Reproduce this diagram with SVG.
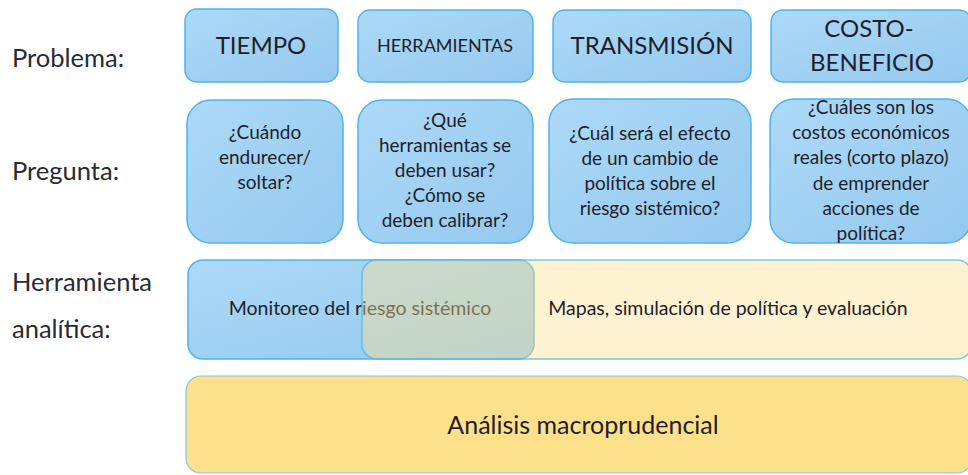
<svg xmlns="http://www.w3.org/2000/svg" width="968" height="475" viewBox="0 0 968 475">
<defs>
<linearGradient id="gb" x1="0" y1="0" x2="1" y2="1">
<stop offset="0" stop-color="#ADD9F8"/>
<stop offset="1" stop-color="#94C9EE"/>
</linearGradient>
<style>
.b{fill:url(#gb);stroke:#4FB4E6;stroke-width:1.5}
.t{font-family:Lato,"Liberation Sans",sans-serif;fill:#1E1E2A;text-anchor:middle}
.lab{font-family:Lato,"Liberation Sans",sans-serif;fill:#2A2A33;font-size:25.5px}
.q{font-size:19px}
</style>
</defs>
<rect width="968" height="475" fill="#FFFFFF"/>
<g id="labels">
<text class="lab" x="12" y="67">Problema:</text>
<text class="lab" x="12" y="180">Pregunta:</text>
<text class="lab" x="12" y="291">Herramienta</text>
<text class="lab" x="12" y="338">analítica:</text>
</g>
<g id="p-tiempo">
<rect class="b" x="185" y="9" width="153" height="73" rx="12"/>
<text class="t" x="261" y="54" font-size="24">TIEMPO</text>
</g>
<g id="p-herramientas">
<rect class="b" x="358" y="10" width="175" height="72" rx="12"/>
<text class="t" x="445" y="52" font-size="18">HERRAMIENTAS</text>
</g>
<g id="p-transmision">
<rect class="b" x="553" y="10" width="198" height="72" rx="12"/>
<text class="t" x="652" y="54" font-size="24">TRANSMISIÓN</text>
</g>
<g id="p-costo">
<rect class="b" x="771" y="10" width="200" height="72" rx="12"/>
<text class="t" x="869" y="37" font-size="24">COSTO-</text>
<text class="t" x="872" y="71" font-size="24">BENEFICIO</text>
</g>
<g id="q-tiempo">
<rect class="b" x="187" y="100" width="156" height="143" rx="24"/>
<text class="t q" x="265" y="139">¿Cuándo</text>
<text class="t q" x="265" y="164">endurecer/</text>
<text class="t q" x="265" y="189">soltar?</text>
</g>
<g id="q-herramientas">
<rect class="b" x="358" y="100" width="175" height="143" rx="24"/>
<text class="t q" x="445" y="127">¿Qué</text>
<text class="t q" x="445" y="152">herramientas se</text>
<text class="t q" x="445" y="177">deben usar?</text>
<text class="t q" x="445" y="202">¿Cómo se</text>
<text class="t q" x="445" y="227">deben calibrar?</text>
</g>
<g id="q-transmision">
<rect class="b" x="549" y="99" width="202" height="144" rx="24"/>
<text class="t q" x="650" y="140">¿Cuál será el efecto</text>
<text class="t q" x="650" y="165">de un cambio de</text>
<text class="t q" x="650" y="190">política sobre el</text>
<text class="t q" x="650" y="215">riesgo sistémico?</text>
</g>
<g id="q-costo">
<rect class="b" x="770" y="99" width="201" height="144" rx="24"/>
<text class="t q" x="871" y="114">¿Cuáles son los</text>
<text class="t q" x="871" y="139">costos económicos</text>
<text class="t q" x="871" y="164">reales (corto plazo)</text>
<text class="t q" x="871" y="190">de emprender</text>
<text class="t q" x="871" y="215">acciones de</text>
<text class="t q" x="871" y="240">política?</text>
</g>
<g id="h-monitoreo">
<rect class="b" x="188" y="260" width="346" height="99" rx="15"/>
<text class="t" x="360" y="315" font-size="19.5">Monitoreo del riesgo sistémico</text>
</g>
<g id="h-mapas">
<rect x="362" y="260" width="610" height="99" rx="15" fill="#FFE18F" fill-opacity="0.42" stroke="#4FB4E6" stroke-opacity="0.75" stroke-width="1.5"/>
<text class="t" x="728" y="315" font-size="19.5">Mapas, simulación de política y evaluación</text>
</g>
<g id="analisis">
<rect x="186" y="376" width="786" height="97" rx="15" fill="#FDE08A" stroke="#7EC8EC" stroke-width="1.2"/>
<text class="t" x="583" y="434" font-size="25">Análisis macroprudencial</text>
</g>
<g id="connectors"/>
</svg>
